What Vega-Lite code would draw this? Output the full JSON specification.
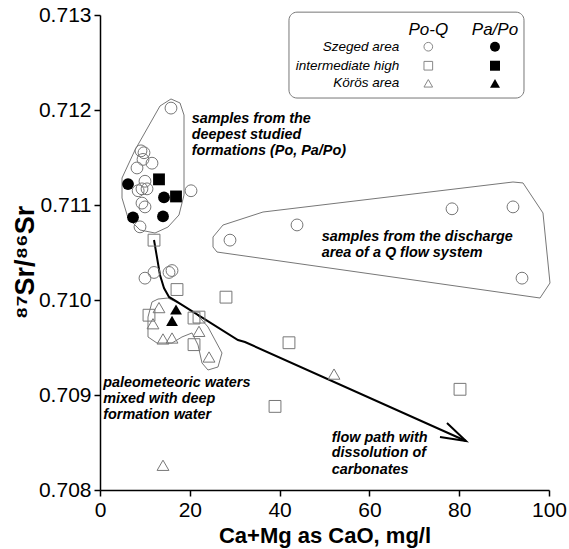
{
  "$schema": "https://vega.github.io/schema/vega-lite/v6.json",
  "autosize": {"type": "none"},
  "padding": {"left": 100, "top": 15, "right": 20, "bottom": 59},
  "width": 449,
  "height": 475,
  "background": "white",
  "view": {"stroke": null},
  "config": {
    "font": "Liberation Sans",
    "axis": {
      "grid": false,
      "domainColor": "black",
      "domainWidth": 1.5,
      "tickColor": "black",
      "tickWidth": 1.5,
      "tickSize": 6,
      "labelColor": "black",
      "labelFont": "Liberation Sans",
      "labelFontSize": 21,
      "labelPadding": 3,
      "labelOverlap": false,
      "labelFlush": false,
      "titleFont": "Liberation Sans",
      "titleFontSize": 22,
      "titleFontWeight": "bold",
      "titleColor": "black"
    }
  },
  "datasets": {
    "pts": [
      {"x": 15.81, "y": 0.71202, "area": "Szeged area", "type": "Po-Q"},
      {"x": 9.13, "y": 0.71157, "area": "Szeged area", "type": "Po-Q"},
      {"x": 9.80, "y": 0.71155, "area": "Szeged area", "type": "Po-Q"},
      {"x": 9.58, "y": 0.71148, "area": "Szeged area", "type": "Po-Q"},
      {"x": 11.58, "y": 0.71144, "area": "Szeged area", "type": "Po-Q"},
      {"x": 8.24, "y": 0.71139, "area": "Szeged area", "type": "Po-Q"},
      {"x": 10.02, "y": 0.71125, "area": "Szeged area", "type": "Po-Q"},
      {"x": 9.35, "y": 0.71117, "area": "Szeged area", "type": "Po-Q"},
      {"x": 10.47, "y": 0.71117, "area": "Szeged area", "type": "Po-Q"},
      {"x": 8.5, "y": 0.71115, "area": "Szeged area", "type": "Po-Q"},
      {"x": 9.35, "y": 0.71102, "area": "Szeged area", "type": "Po-Q"},
      {"x": 10.02, "y": 0.71098, "area": "Szeged area", "type": "Po-Q"},
      {"x": 8.91, "y": 0.71077, "area": "Szeged area", "type": "Po-Q"},
      {"x": 20.27, "y": 0.71115, "area": "Szeged area", "type": "Po-Q"},
      {"x": 10.02, "y": 0.71023, "area": "Szeged area", "type": "Po-Q"},
      {"x": 12.03, "y": 0.71029, "area": "Szeged area", "type": "Po-Q"},
      {"x": 15.37, "y": 0.71029, "area": "Szeged area", "type": "Po-Q"},
      {"x": 16.04, "y": 0.71031, "area": "Szeged area", "type": "Po-Q"},
      {"x": 28.95, "y": 0.71063, "area": "Szeged area", "type": "Po-Q"},
      {"x": 43.88, "y": 0.71079, "area": "Szeged area", "type": "Po-Q"},
      {"x": 78.4, "y": 0.71096, "area": "Szeged area", "type": "Po-Q"},
      {"x": 91.98, "y": 0.71098, "area": "Szeged area", "type": "Po-Q"},
      {"x": 93.99, "y": 0.71023, "area": "Szeged area", "type": "Po-Q"},
      {"x": 6.24, "y": 0.71122, "area": "Szeged area", "type": "Pa/Po"},
      {"x": 14.25, "y": 0.71108, "area": "Szeged area", "type": "Pa/Po"},
      {"x": 7.35, "y": 0.71087, "area": "Szeged area", "type": "Pa/Po"},
      {"x": 14.03, "y": 0.71088, "area": "Szeged area", "type": "Pa/Po"},
      {"x": 13.14, "y": 0.71127, "area": "intermediate high", "type": "Pa/Po"},
      {"x": 16.93, "y": 0.71109, "area": "intermediate high", "type": "Pa/Po"},
      {"x": 12.03, "y": 0.71063, "area": "intermediate high", "type": "Po-Q"},
      {"x": 17.15, "y": 0.71011, "area": "intermediate high", "type": "Po-Q"},
      {"x": 28.06, "y": 0.71003, "area": "intermediate high", "type": "Po-Q"},
      {"x": 10.91, "y": 0.70984, "area": "intermediate high", "type": "Po-Q"},
      {"x": 20.94, "y": 0.70981, "area": "intermediate high", "type": "Po-Q"},
      {"x": 22.05, "y": 0.70982, "area": "intermediate high", "type": "Po-Q"},
      {"x": 20.94, "y": 0.70953, "area": "intermediate high", "type": "Po-Q"},
      {"x": 42.09, "y": 0.70955, "area": "intermediate high", "type": "Po-Q"},
      {"x": 38.98, "y": 0.70888, "area": "intermediate high", "type": "Po-Q"},
      {"x": 80.18, "y": 0.70906, "area": "intermediate high", "type": "Po-Q"},
      {"x": 13.14, "y": 0.70992, "area": "Körös area", "type": "Po-Q"},
      {"x": 11.8, "y": 0.70975, "area": "Körös area", "type": "Po-Q"},
      {"x": 14.03, "y": 0.70959, "area": "Körös area", "type": "Po-Q"},
      {"x": 16.04, "y": 0.7096, "area": "Körös area", "type": "Po-Q"},
      {"x": 22.05, "y": 0.70967, "area": "Körös area", "type": "Po-Q"},
      {"x": 24.28, "y": 0.7094, "area": "Körös area", "type": "Po-Q"},
      {"x": 52.12, "y": 0.70922, "area": "Körös area", "type": "Po-Q"},
      {"x": 14.03, "y": 0.70826, "area": "Körös area", "type": "Po-Q"},
      {"x": 16.93, "y": 0.7099, "area": "Körös area", "type": "Pa/Po"},
      {"x": 16.04, "y": 0.70978, "area": "Körös area", "type": "Pa/Po"}
    ],
    "outlines": [
      {"g": "deep", "i": 0, "x": 15.81, "y": 0.712116},
      {"g": "deep", "i": 1, "x": 17.82, "y": 0.712074},
      {"g": "deep", "i": 2, "x": 18.71, "y": 0.711947},
      {"g": "deep", "i": 3, "x": 18.71, "y": 0.711105},
      {"g": "deep", "i": 4, "x": 17.59, "y": 0.710895},
      {"g": "deep", "i": 5, "x": 15.14, "y": 0.710768},
      {"g": "deep", "i": 6, "x": 12.25, "y": 0.710705},
      {"g": "deep", "i": 7, "x": 8.91, "y": 0.710737},
      {"g": "deep", "i": 8, "x": 6.24, "y": 0.710863},
      {"g": "deep", "i": 9, "x": 4.90, "y": 0.711074},
      {"g": "deep", "i": 10, "x": 4.90, "y": 0.711284},
      {"g": "deep", "i": 11, "x": 7.80, "y": 0.711579},
      {"g": "deep", "i": 12, "x": 13.36, "y": 0.712042},
      {"g": "deep", "i": 13, "x": 15.81, "y": 0.712116},
      {"g": "dis", "i": 0, "x": 25.17, "y": 0.710663},
      {"g": "dis", "i": 1, "x": 27.39, "y": 0.710789},
      {"g": "dis", "i": 2, "x": 36.30, "y": 0.710926},
      {"g": "dis", "i": 3, "x": 91.98, "y": 0.711242},
      {"g": "dis", "i": 4, "x": 94.21, "y": 0.711232},
      {"g": "dis", "i": 5, "x": 98.66, "y": 0.710916},
      {"g": "dis", "i": 6, "x": 100.22, "y": 0.710179},
      {"g": "dis", "i": 7, "x": 98.0, "y": 0.710021},
      {"g": "dis", "i": 8, "x": 26.06, "y": 0.710505},
      {"g": "dis", "i": 9, "x": 25.17, "y": 0.710558},
      {"g": "dis", "i": 10, "x": 25.17, "y": 0.710663},
      {"g": "paleo", "i": 0, "x": 12.92, "y": 0.71001},
      {"g": "paleo", "i": 1, "x": 15.14, "y": 0.710021},
      {"g": "paleo", "i": 2, "x": 18.26, "y": 0.709947},
      {"g": "paleo", "i": 3, "x": 21.16, "y": 0.709863},
      {"g": "paleo", "i": 4, "x": 22.72, "y": 0.709789},
      {"g": "paleo", "i": 5, "x": 24.05, "y": 0.709716},
      {"g": "paleo", "i": 6, "x": 25.61, "y": 0.709579},
      {"g": "paleo", "i": 7, "x": 27.17, "y": 0.709442},
      {"g": "paleo", "i": 8, "x": 26.28, "y": 0.709295},
      {"g": "paleo", "i": 9, "x": 24.05, "y": 0.709263},
      {"g": "paleo", "i": 10, "x": 22.72, "y": 0.709337},
      {"g": "paleo", "i": 11, "x": 21.83, "y": 0.709526},
      {"g": "paleo", "i": 12, "x": 20.49, "y": 0.709653},
      {"g": "paleo", "i": 13, "x": 18.26, "y": 0.709611},
      {"g": "paleo", "i": 14, "x": 16.04, "y": 0.709547},
      {"g": "paleo", "i": 15, "x": 12.69, "y": 0.709547},
      {"g": "paleo", "i": 16, "x": 10.69, "y": 0.709611},
      {"g": "paleo", "i": 17, "x": 10.69, "y": 0.709821},
      {"g": "paleo", "i": 18, "x": 11.58, "y": 0.709979},
      {"g": "paleo", "i": 19, "x": 12.92, "y": 0.71001}
    ],
    "flow": [
      {"g": "path", "i": 0, "x": 12.03, "y": 0.710632},
      {"g": "path", "i": 1, "x": 13.36, "y": 0.710263},
      {"g": "path", "i": 2, "x": 14.25, "y": 0.710126},
      {"g": "path", "i": 3, "x": 15.37, "y": 0.710032},
      {"g": "path", "i": 4, "x": 16.93, "y": 0.709989},
      {"g": "path", "i": 5, "x": 30.73, "y": 0.709579},
      {"g": "path", "i": 6, "x": 32.29, "y": 0.709558},
      {"g": "path", "i": 7, "x": 81.51, "y": 0.708516},
      {"g": "head", "i": 0, "x": 77.28, "y": 0.708705},
      {"g": "head", "i": 1, "x": 81.51, "y": 0.708516},
      {"g": "head", "i": 2, "x": 75.72, "y": 0.708558}
    ],
    "notes": [
      {"x": 20.42, "y": 0.711905, "t": "samples from the"},
      {"x": 20.42, "y": 0.711737, "t": "deepest studied"},
      {"x": 20.42, "y": 0.711568, "t": "formations (Po, Pa/Po)"},
      {"x": 49.38, "y": 0.710663, "t": "samples from the discharge"},
      {"x": 49.38, "y": 0.710495, "t": "area of a Q flow system"},
      {"x": 0.73, "y": 0.709126, "t": "paleometeoric waters"},
      {"x": 0.73, "y": 0.708958, "t": "mixed with deep"},
      {"x": 0.73, "y": 0.708789, "t": "formation water"},
      {"x": 51.6, "y": 0.708547, "t": "flow path with"},
      {"x": 51.6, "y": 0.708389, "t": "dissolution of"},
      {"x": 51.6, "y": 0.708211, "t": "carbonates"}
    ],
    "legbox": [
      {"x": 42.09, "x2": 94.43, "y": 0.71303, "y2": 0.712126}
    ],
    "leghead": [
      {"x": 73.12, "y": 0.712842, "t": "Po-Q"},
      {"x": 87.97, "y": 0.712842, "t": "Pa/Po"}
    ],
    "legrows": [
      {"x": 66.66, "y": 0.712666, "t": "Szeged area"},
      {"x": 66.66, "y": 0.712466, "t": "intermediate high"},
      {"x": 66.66, "y": 0.712281, "t": "Körös area"}
    ],
    "legpts": [
      {"x": 73.12, "y": 0.712666, "area": "Szeged area", "type": "Po-Q"},
      {"x": 73.12, "y": 0.712466, "area": "intermediate high", "type": "Po-Q"},
      {"x": 73.12, "y": 0.712281, "area": "Körös area", "type": "Po-Q"},
      {"x": 87.97, "y": 0.712666, "area": "Szeged area", "type": "Pa/Po"},
      {"x": 87.97, "y": 0.712466, "area": "intermediate high", "type": "Pa/Po"},
      {"x": 87.97, "y": 0.712281, "area": "Körös area", "type": "Pa/Po"}
    ]
  },
  "layer": [
    {
      "data": {"name": "outlines"},
      "mark": {"type": "line", "stroke": "#777777", "strokeWidth": 1},
      "encoding": {
        "x": {"field": "x", "type": "quantitative", "scale": {"domain": [0, 100], "nice": false, "zero": false},
              "axis": {"title": "Ca+Mg as CaO, mg/l", "values": [0, 20, 40, 60, 80, 100], "format": "d", "titleY": 45, "titleBaseline": "middle"}},
        "y": {"field": "y", "type": "quantitative", "scale": {"domain": [0.708, 0.713], "nice": false, "zero": false},
              "axis": {"title": "⁸⁷Sr/⁸⁶Sr", "values": [0.708, 0.709, 0.71, 0.711, 0.712, 0.713], "format": ".3f", "titleX": -75, "titleY": 247, "titleFontSize": 27, "titleBaseline": "middle"}},
        "detail": {"field": "g"},
        "order": {"field": "i", "type": "quantitative"}
      }
    },
    {
      "data": {"name": "flow"},
      "mark": {"type": "line", "stroke": "black", "strokeWidth": 2},
      "encoding": {
        "x": {"field": "x", "type": "quantitative"},
        "y": {"field": "y", "type": "quantitative"},
        "detail": {"field": "g"},
        "order": {"field": "i", "type": "quantitative"}
      }
    },
    {
      "data": {"name": "pts"},
      "transform": [{"filter": "datum.type === 'Po-Q'"}],
      "mark": {"type": "point", "filled": false, "stroke": "#777777", "strokeWidth": 1, "size": 140, "opacity": 1},
      "encoding": {
        "x": {"field": "x", "type": "quantitative"},
        "y": {"field": "y", "type": "quantitative"},
        "shape": {"field": "area", "type": "nominal", "scale": {"domain": ["Szeged area", "intermediate high", "Körös area"], "range": ["circle", "square", "triangle-up"]}, "legend": null}
      }
    },
    {
      "data": {"name": "pts"},
      "transform": [{"filter": "datum.type === 'Pa/Po'"}],
      "mark": {"type": "point", "filled": true, "fill": "black", "stroke": null, "size": 140, "opacity": 1},
      "encoding": {
        "x": {"field": "x", "type": "quantitative"},
        "y": {"field": "y", "type": "quantitative"},
        "shape": {"field": "area", "type": "nominal", "legend": null}
      }
    },
    {
      "data": {"name": "notes"},
      "mark": {"type": "text", "align": "left", "baseline": "middle", "fontSize": 14.4, "fontWeight": "bold", "fontStyle": "italic", "color": "black", "font": "Liberation Sans"},
      "encoding": {
        "x": {"field": "x", "type": "quantitative"},
        "y": {"field": "y", "type": "quantitative"},
        "text": {"field": "t"}
      }
    },
    {
      "data": {"name": "legbox"},
      "mark": {"type": "rect", "fill": "white", "stroke": "#777777", "strokeWidth": 1, "cornerRadius": 8},
      "encoding": {
        "x": {"field": "x", "type": "quantitative"},
        "x2": {"field": "x2"},
        "y": {"field": "y", "type": "quantitative"},
        "y2": {"field": "y2"}
      }
    },
    {
      "data": {"name": "leghead"},
      "mark": {"type": "text", "align": "center", "baseline": "middle", "fontSize": 17, "fontStyle": "italic", "color": "black", "font": "Liberation Sans"},
      "encoding": {
        "x": {"field": "x", "type": "quantitative"},
        "y": {"field": "y", "type": "quantitative"},
        "text": {"field": "t"}
      }
    },
    {
      "data": {"name": "legrows"},
      "mark": {"type": "text", "align": "right", "baseline": "middle", "fontSize": 13.5, "fontStyle": "italic", "color": "black", "font": "Liberation Sans"},
      "encoding": {
        "x": {"field": "x", "type": "quantitative"},
        "y": {"field": "y", "type": "quantitative"},
        "text": {"field": "t"}
      }
    },
    {
      "data": {"name": "legpts"},
      "transform": [{"filter": "datum.type === 'Po-Q'"}],
      "mark": {"type": "point", "filled": false, "stroke": "#888888", "strokeWidth": 1, "size": 75, "opacity": 1},
      "encoding": {
        "x": {"field": "x", "type": "quantitative"},
        "y": {"field": "y", "type": "quantitative"},
        "shape": {"field": "area", "type": "nominal", "legend": null}
      }
    },
    {
      "data": {"name": "legpts"},
      "transform": [{"filter": "datum.type === 'Pa/Po'"}],
      "mark": {"type": "point", "filled": true, "fill": "black", "stroke": null, "size": 100, "opacity": 1},
      "encoding": {
        "x": {"field": "x", "type": "quantitative"},
        "y": {"field": "y", "type": "quantitative"},
        "shape": {"field": "area", "type": "nominal", "legend": null}
      }
    }
  ]
}
